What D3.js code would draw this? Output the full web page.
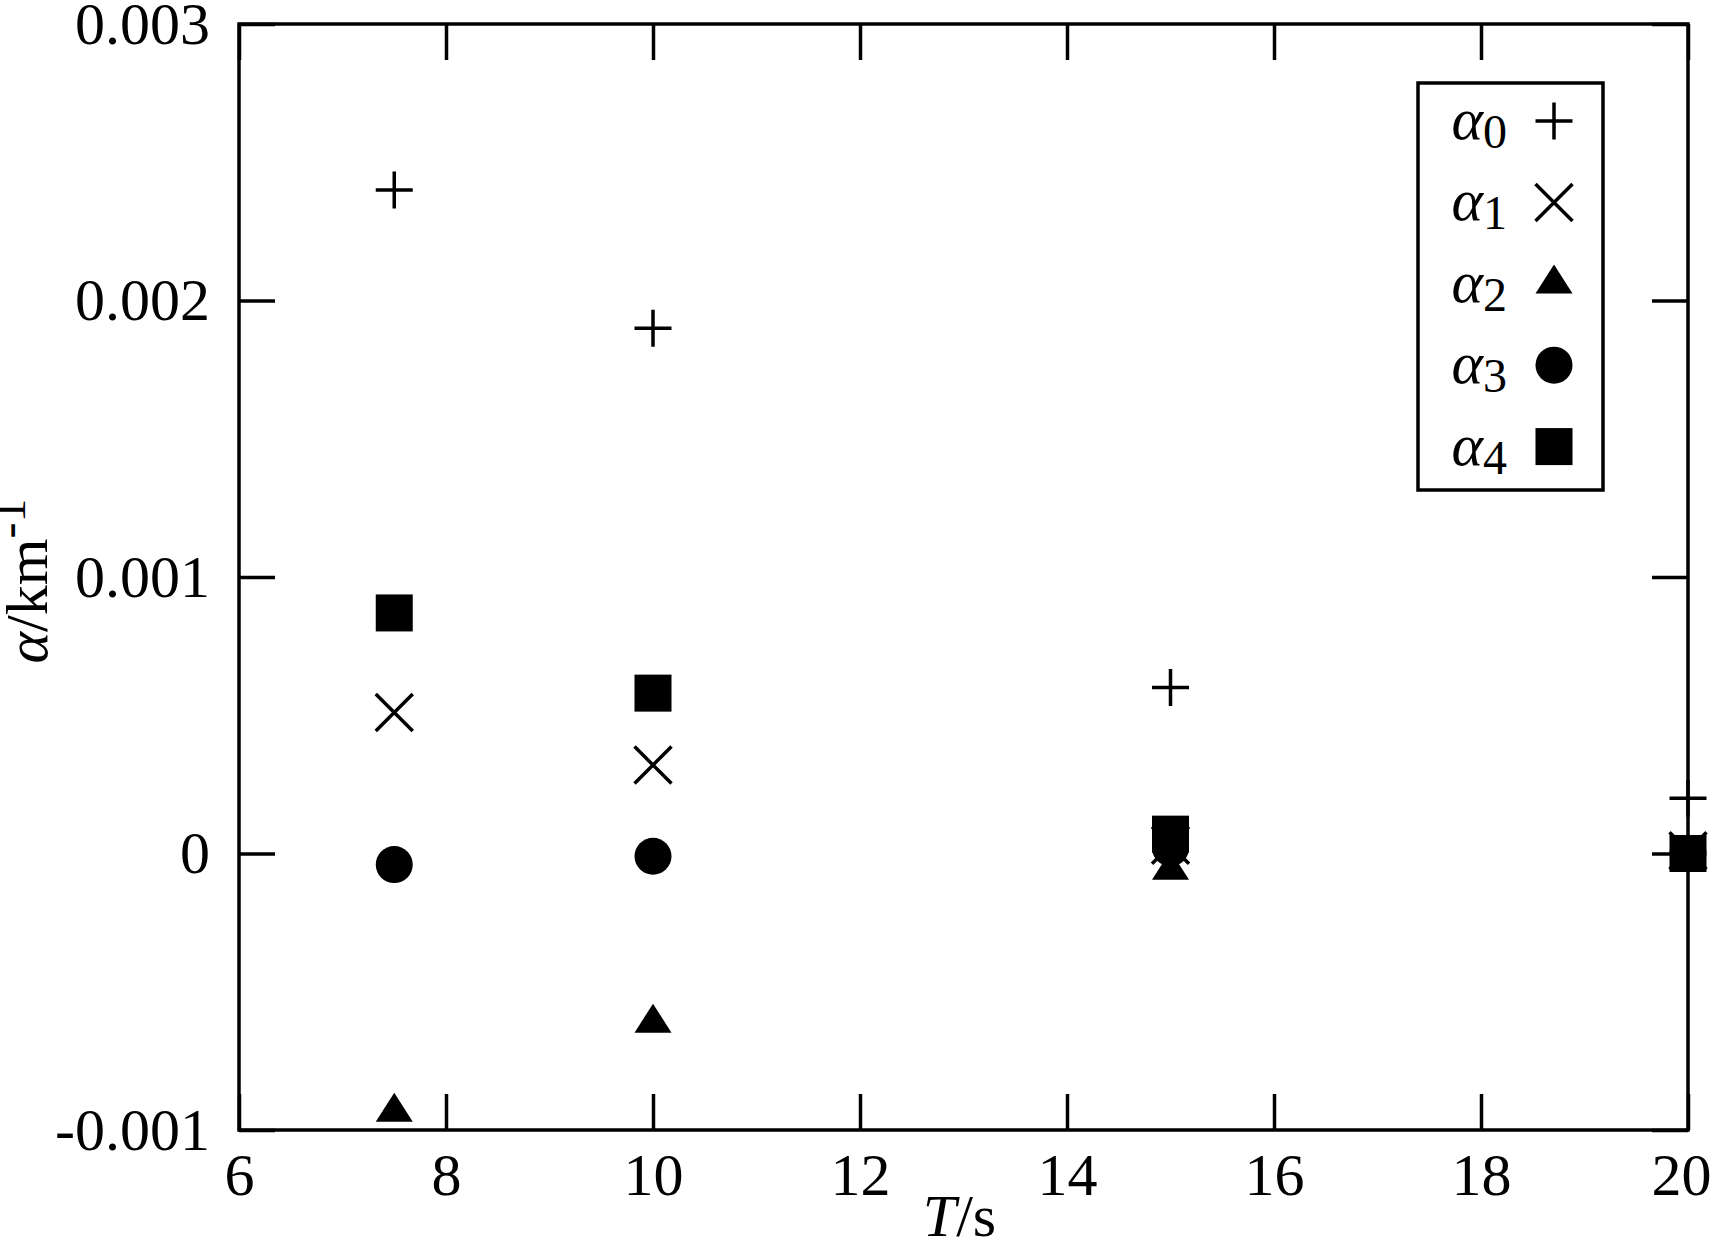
<!DOCTYPE html>
<html>
<head>
<meta charset="utf-8">
<script src="https://cdn.jsdelivr.net/npm/d3@7"></script>
<style>
  html, body { margin: 0; padding: 0; background: #fff; }
  svg { display: block; }
  text { font-family: "Liberation Serif", "Times New Roman", serif; fill: #000; }
</style>
</head>
<body>
<svg id="chart" width="1714" height="1251"></svg>
<script>
// ---- data ----
const periods = [7.5, 10, 15, 20];
const alpha0 = [0.0024, 0.0019, 0.0006, 0.0002];
const alpha1 = [0.00051, 0.00032, 0.00003, 0.00001];
const alpha2 = [-0.000935, -0.000613, -0.00006, -0.00001];
const alpha3 = [-0.00004, -0.00001, 0.00002, 0.0];
const alpha4 = [0.00087, 0.00058, 0.00007, 0.0];
const seriesNames = ["0", "1", "2", "3", "4"];
const seriesSymbols = ["plus", "cross", "triangle", "circle", "square"];
const xTicks = [6, 8, 10, 12, 14, 16, 18, 20];
const xTickLabels = ["6", "8", "10", "12", "14", "16", "18", "20"];
const yTicks = [-0.001, 0, 0.001, 0.002, 0.003];
const yTickLabels = ["-0.001", "0", "0.001", "0.002", "0.003"];

const seriesValues = [alpha0, alpha1, alpha2, alpha3, alpha4];

(function () {
// ---- layout ----
const svg = d3.select("#chart");
const pL = 239, pR = 1688, pT = 24, pB = 1130;
const FS = 60;
const SW = 3.5;
const TICK = 36;
const M = 18.5; // marker half-size

const x = d3.scaleLinear().domain([6, 20]).range([pL, pR]);
const y = d3.scaleLinear().domain([-0.001, 0.003]).range([pB, pT]);

function styleAxis(g) {
  g.select(".domain").remove();
  g.selectAll(".tick line").attr("stroke", "#000").attr("stroke-width", SW);
  g.selectAll(".tick text").style("font-size", FS + "px")
    .style("font-family", '"Liberation Serif", "Times New Roman", serif').attr("fill", "#000");
}

// bottom axis with labels
const gx = svg.append("g").attr("transform", `translate(0,${pB})`)
  .call(d3.axisBottom(x).tickValues(xTicks).tickSize(-TICK).tickPadding(22)
    .tickFormat((d, i) => xTickLabels[i]))
  .call(styleAxis);
// keep the last label inside the picture, as in the reference
gx.selectAll(".tick text").filter(d => d === 20).attr("dx", -7);

// top axis mirror ticks
svg.append("g").attr("transform", `translate(0,${pT})`)
  .call(d3.axisTop(x).tickValues(xTicks).tickSize(-TICK).tickFormat(""))
  .call(styleAxis);
// left axis with labels
svg.append("g").attr("transform", `translate(${pL},0)`)
  .call(d3.axisLeft(y).tickValues(yTicks).tickSize(-TICK).tickPadding(29)
    .tickFormat((d, i) => yTickLabels[i]))
  .call(styleAxis);
// right axis mirror ticks
svg.append("g").attr("transform", `translate(${pR},0)`)
  .call(d3.axisRight(y).tickValues(yTicks).tickSize(-TICK).tickFormat(""))
  .call(styleAxis);

// frame
svg.append("rect").attr("x", pL).attr("y", pT)
  .attr("width", pR - pL).attr("height", pB - pT)
  .attr("fill", "none").attr("stroke", "#000").attr("stroke-width", SW);

// ---- markers ----
function drawSymbol(g, type, cx, cy) {
  if (type === "plus") {
    g.append("path").attr("d", `M${cx - M},${cy}H${cx + M}M${cx},${cy - M}V${cy + M}`)
      .attr("stroke", "#000").attr("stroke-width", SW).attr("fill", "none");
  } else if (type === "cross") {
    g.append("path").attr("d", `M${cx - M},${cy - M}L${cx + M},${cy + M}M${cx - M},${cy + M}L${cx + M},${cy - M}`)
      .attr("stroke", "#000").attr("stroke-width", SW).attr("fill", "none");
  } else if (type === "triangle") {
    const h = 29;
    g.append("path").attr("d", `M${cx},${cy - 2 * h / 3}L${cx + M},${cy + h / 3}L${cx - M},${cy + h / 3}Z`)
      .attr("fill", "#000");
  } else if (type === "circle") {
    g.append("circle").attr("cx", cx).attr("cy", cy).attr("r", M).attr("fill", "#000");
  } else if (type === "square") {
    g.append("rect").attr("x", cx - M).attr("y", cy - M).attr("width", 2 * M).attr("height", 2 * M)
      .attr("fill", "#000");
  }
}

const marks = svg.append("g");
seriesValues.forEach((vals, si) => {
  const sg = marks.append("g");
  vals.forEach((v, i) => drawSymbol(sg, seriesSymbols[si], x(periods[i]), y(v)));
});

// ---- legend ----
const lg = svg.append("g");
lg.append("rect").attr("x", 1418).attr("y", 83).attr("width", 185).attr("height", 407)
  .attr("fill", "#fff").attr("stroke", "#000").attr("stroke-width", SW);
seriesNames.forEach((name, i) => {
  const cy = 121 + i * 81.4;
  const t = lg.append("text").attr("x", 1507).attr("y", cy + 18)
    .attr("text-anchor", "end").style("font-size", FS + "px");
  t.append("tspan").style("font-style", "italic").text("α");
  t.append("tspan").attr("dy", 9).style("font-size", (FS * 0.8) + "px").text(name);
  drawSymbol(lg, seriesSymbols[i], 1554, cy);
});

// ---- axis titles ----
const xt = svg.append("text").attr("x", (pL + pR) / 2 - 4).attr("y", 1236)
  .attr("text-anchor", "middle").style("font-size", FS + "px");
xt.append("tspan").style("font-style", "italic").text("T");
xt.append("tspan").text("/s");

const yt = svg.append("text").attr("transform", `translate(47,${(pT + pB) / 2 + 4}) rotate(-90)`)
  .attr("text-anchor", "middle").style("font-size", FS + "px");
yt.append("tspan").style("font-style", "italic").text("α");
yt.append("tspan").text("/km");
yt.append("tspan").attr("dy", -22).style("font-size", (FS * 0.8) + "px").text("-1");
})();
</script>
</body>
</html>
